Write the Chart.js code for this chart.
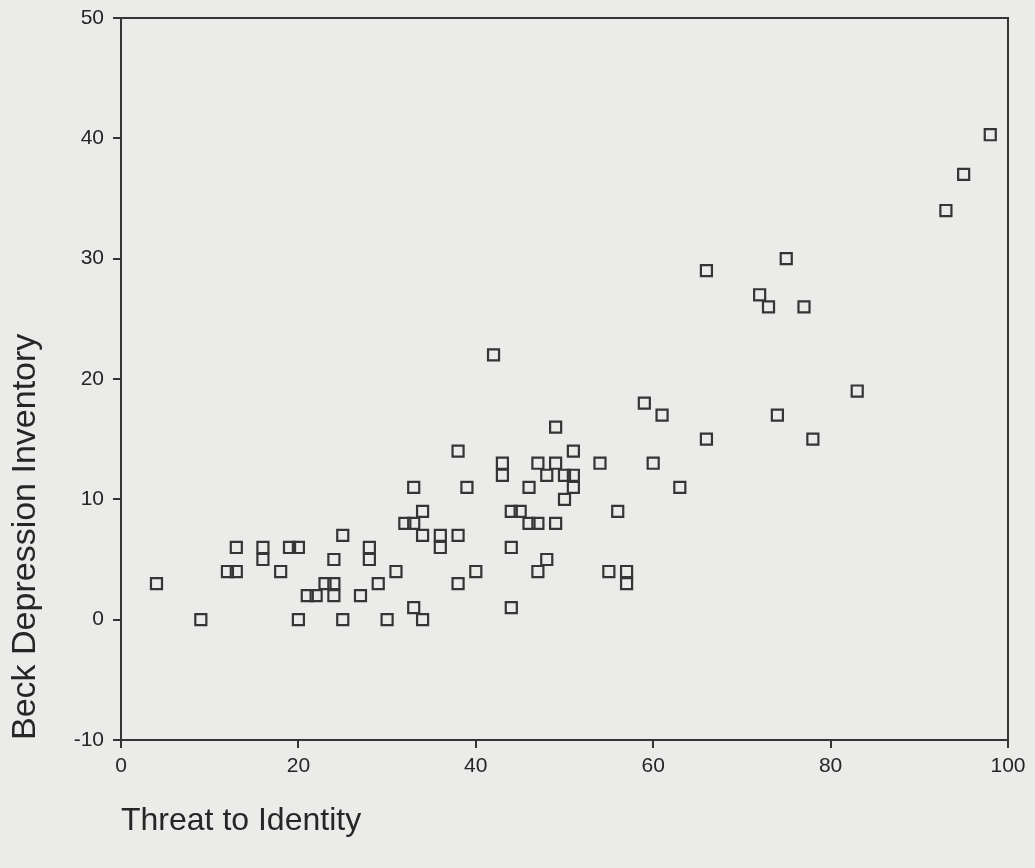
<!DOCTYPE html>
<html>
<head>
<meta charset="utf-8">
<script src="https://cdn.jsdelivr.net/npm/chart.js@4/dist/chart.umd.min.js"></script>
<style>
    html, body { margin: 0; padding: 0; background: #ebebea; }
    #wrap { width: 1035px; height: 868px; position: relative; }
</style>
</head>
<body>
<div id="wrap"><canvas id="scatter"></canvas></div>
<script>
// Threat to Identity (x) vs Beck Depression Inventory (y)
const threat = [4, 9, 12, 13, 13, 16, 16, 18, 19, 20, 20, 21, 22, 23, 24, 24, 24, 25, 25, 27,
    28, 28, 29, 30, 31, 32, 33, 33, 33, 34, 34, 34, 36, 36, 38, 38, 38, 39, 40, 42,
    43, 43, 44, 45, 44, 44, 46, 46, 47, 47, 47, 48, 48, 49, 49, 49, 50, 51, 51, 51,
    50, 54, 55, 56, 57, 57, 59, 60, 61, 63, 66, 66, 72, 73, 74, 75, 77, 78, 83, 93,
    95, 98];
const beck = [3, 0, 4, 4, 6, 6, 5, 4, 6, 6, 0, 2, 2, 3, 3, 5, 2, 7, 0, 2,
    6, 5, 3, 0, 4, 8, 8, 11, 1, 9, 7, 0, 7, 6, 14, 7, 3, 11, 4, 22,
    13, 12, 9, 9, 6, 1, 11, 8, 8, 13, 4, 12, 5, 16, 13, 8, 12, 12, 14, 11,
    10, 13, 4, 9, 4, 3, 18, 13, 17, 11, 29, 15, 27, 26, 17, 30, 26, 15, 19, 34,
    37, 40.3];

const xTicks = [0, 20, 40, 60, 80, 100];
const yTicks = [-10, 0, 10, 20, 30, 40, 50];

const ink = '#353535';
const textInk = '#262626';
const points = threat.map((t, i) => ({ x: t, y: beck[i] }));

// box round the plot area (top and right edges)
const frame = {
    id: 'frame',
    afterDraw(chart) {
        const a = chart.chartArea;
        const ctx = chart.ctx;
        ctx.save();
        ctx.strokeStyle = ink;
        ctx.lineWidth = 2;
        ctx.strokeRect(a.left, a.top, a.right - a.left, a.bottom - a.top);
        ctx.restore();
    }
};

new Chart(document.getElementById('scatter'), {
    type: 'scatter',
    data: {
        datasets: [{
            data: points,
            pointStyle: 'rect',
            pointRadius: 7.8,
            pointHoverRadius: 7.8,
            pointBorderWidth: 2.2,
            borderColor: ink,
            backgroundColor: 'rgba(0,0,0,0)'
        }]
    },
    options: {
        responsive: true,
        maintainAspectRatio: false,
        animation: false,
        layout: { padding: { left: 0, top: 18, right: 27, bottom: 0 } },
        plugins: {
            legend: { display: false },
            tooltip: { enabled: false }
        },
        scales: {
            x: {
                type: 'linear',
                min: 0,
                max: 100,
                afterBuildTicks: s => { s.ticks = xTicks.map(v => ({ value: v })); },
                afterFit: s => { s.height = 128; s.paddingLeft = 0; s.paddingRight = 0; },
                grid: { drawOnChartArea: false, tickLength: 8, color: ink, lineWidth: 2 },
                border: { color: ink, width: 2 },
                ticks: { color: textInk, padding: 6, maxRotation: 0, font: { family: 'Liberation Sans, Arial', size: 21 } },
                title: {
                    display: true,
                    text: 'Threat to Identity',
                    align: 'start',
                    color: textInk,
                    padding: { bottom: 28 },
                    font: { family: 'Liberation Sans, Arial', size: 32 }
                }
            },
            y: {
                type: 'linear',
                min: -10,
                max: 50,
                afterBuildTicks: s => { s.ticks = yTicks.map(v => ({ value: v })); },
                afterFit: s => { s.width = 121; s.paddingTop = 0; s.paddingBottom = 0; },
                grid: { drawOnChartArea: false, tickLength: 8, color: ink, lineWidth: 2 },
                border: { color: ink, width: 2 },
                ticks: { color: textInk, padding: 9, font: { family: 'Liberation Sans, Arial', size: 21 } },
                title: {
                    display: true,
                    text: 'Beck Depression Inventory',
                    align: 'start',
                    color: textInk,
                    padding: { top: 5 },
                    font: { family: 'Liberation Sans, Arial', size: 34 }
                }
            }
        }
    },
    plugins: [frame]
});
</script>
</body>
</html>
